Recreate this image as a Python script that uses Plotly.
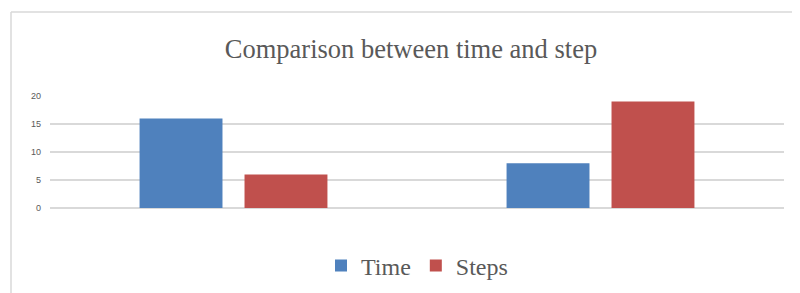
import plotly.graph_objects as go

categories = ["1", "2"]
time_values = [16, 8]
steps_values = [6, 19]
y_ticks = [0, 5, 10, 15, 20]

# The page body adds an 8px offset; figure coordinates below are relative to the figure.
W, H = 792, 285
ml, mr, mt, mb = 42, 16, 88, 85
pw = W - ml - mr
ph = H - mt - mb

fig = go.Figure()
fig.add_trace(go.Bar(name="Time", x=categories, y=time_values, marker=dict(color="#4F81BD", line=dict(width=0))))
fig.add_trace(go.Bar(name="Steps", x=categories, y=steps_values, marker=dict(color="#C0504D", line=dict(width=0))))

border_x = (3 - ml) / pw
border_y = 1 + (mt - 4) / ph

fig.update_layout(
    width=W, height=H,
    margin=dict(l=ml, r=mr, t=mt, b=mb, autoexpand=False),
    paper_bgcolor="white", plot_bgcolor="white",
    barmode="group", bargap=0.428, bargroupgap=0.21,
    title=dict(text="Comparison between time and step", x=403 / W, xanchor="center",
               y=1 - 41 / H, yanchor="middle", yref="container",
               font=dict(family="Liberation Serif", size=26.5, color="#595959")),
    showlegend=True,
    legend=dict(orientation="h", x=0.5, xanchor="center", y=-(258 - mt - ph) / ph, yanchor="middle",
                font=dict(family="Liberation Serif", size=24, color="#595959"),
                itemwidth=30, traceorder="normal"),
    xaxis=dict(showticklabels=False, showgrid=False, zeroline=False, showline=False, ticks=""),
    yaxis=dict(range=[0, 20], tickvals=y_ticks, showgrid=True, gridcolor="#d9d9d9", gridwidth=1.5,
               zeroline=True, zerolinecolor="#d9d9d9", zerolinewidth=1.5, showline=False,
               tickfont=dict(family="Liberation Sans", size=9, color="#595959"), ticks="",
               ticklabelstandoff=8),
    shapes=[
        dict(type="line", xref="paper", yref="paper", x0=border_x, x1=1.2, y0=border_y, y1=border_y,
             line=dict(color="#d9d9d9", width=1.5)),
        dict(type="line", xref="paper", yref="paper", x0=border_x, x1=border_x, y0=border_y, y1=-1.0,
             line=dict(color="#d9d9d9", width=1.5)),
    ],
)

fig.write_html("out.html")
